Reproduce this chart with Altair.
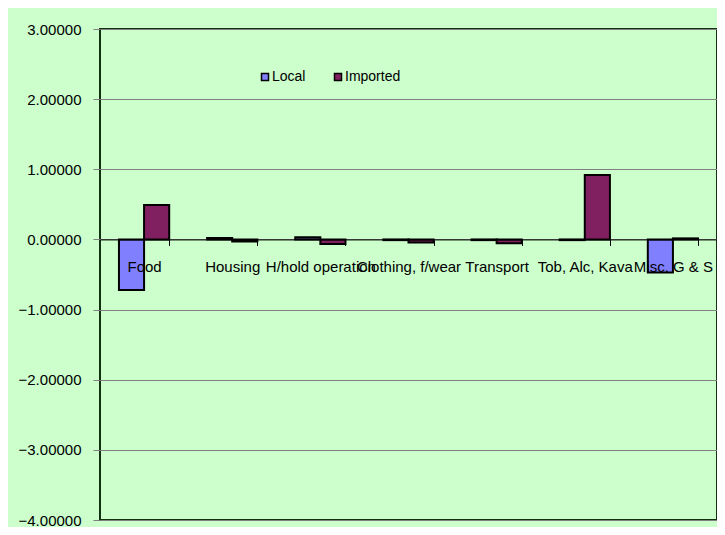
import altair as alt
import pandas as pd

categories = ["Food", "Housing", "H/hold operation", "Clothing, f/wear",
              "Transport", "Tob, Alc, Kava", "Misc. G & S"]
series = ["Local", "Imported"]
local = [-0.72, 0.02, 0.03, -0.01, -0.01, -0.01, -0.47]
imported = [0.49, -0.03, -0.065, -0.045, -0.055, 0.92, 0.015]
y_ticks = [-4, -3, -2, -1, 0, 1, 2, 3]

rows = []
for c, l, i in zip(categories, local, imported):
    rows.append({"category": c, "series": "Local", "value": l})
    rows.append({"category": c, "series": "Imported", "value": i})
df = pd.DataFrame(rows)

W = 617
H = 491
ymin, ymax = -4, 3
zero_offset = -H * (0 - ymin) / (ymax - ymin)

chart = alt.Chart(df).mark_bar(stroke="black", strokeWidth=2).encode(
    x=alt.X(
        "category:N", sort=categories,
        scale=alt.Scale(paddingInner=0.43, paddingOuter=0.215),
        axis=alt.Axis(title=None, orient="bottom", offset=zero_offset,
                      labelAngle=0, tickBand="extent", tickSize=6,
                      tickColor="black", domainColor="black", domainWidth=1,
                      labelOverlap=False, labelLimit=0, labelPadding=14,
                      labelFontSize=15, labelColor="black", zindex=1,
                      grid=False),
    ),
    xOffset=alt.XOffset("series:N", sort=series,
                        scale=alt.Scale(paddingInner=0, paddingOuter=0)),
    y=alt.Y(
        "value:Q",
        scale=alt.Scale(domain=[ymin, ymax], nice=False),
        axis=alt.Axis(values=y_ticks, format=".5f", title=None, domain=False,
                      grid=True, gridColor="#808080", gridWidth=1,
                      tickSize=7, tickColor="#808080", labelPadding=12,
                      labelFontSize=15, labelColor="black"),
    ),
    color=alt.Color(
        "series:N", sort=series,
        scale=alt.Scale(domain=series, range=["#8080ff", "#802060"]),
        legend=alt.Legend(title=None, orient="none", legendX=158, legendY=41,
                          direction="horizontal", symbolType="square",
                          symbolSize=49, symbolStrokeColor="black",
                          symbolStrokeWidth=1.5, labelFontSize=14,
                          labelColor="black", columnPadding=25,
                          labelOffset=0, padding=0),
    ),
).properties(
    width=W, height=H, autosize="none",
    padding={"left": 92, "top": 21, "right": 0, "bottom": 7},
).configure(
    background="#ccffcc", font="Liberation Sans",
).configure_view(
    fill="#ccffcc", stroke="#103010", strokeWidth=2,
)

chart.save("out.html", embed_options={"renderer": "svg", "actions": False})
